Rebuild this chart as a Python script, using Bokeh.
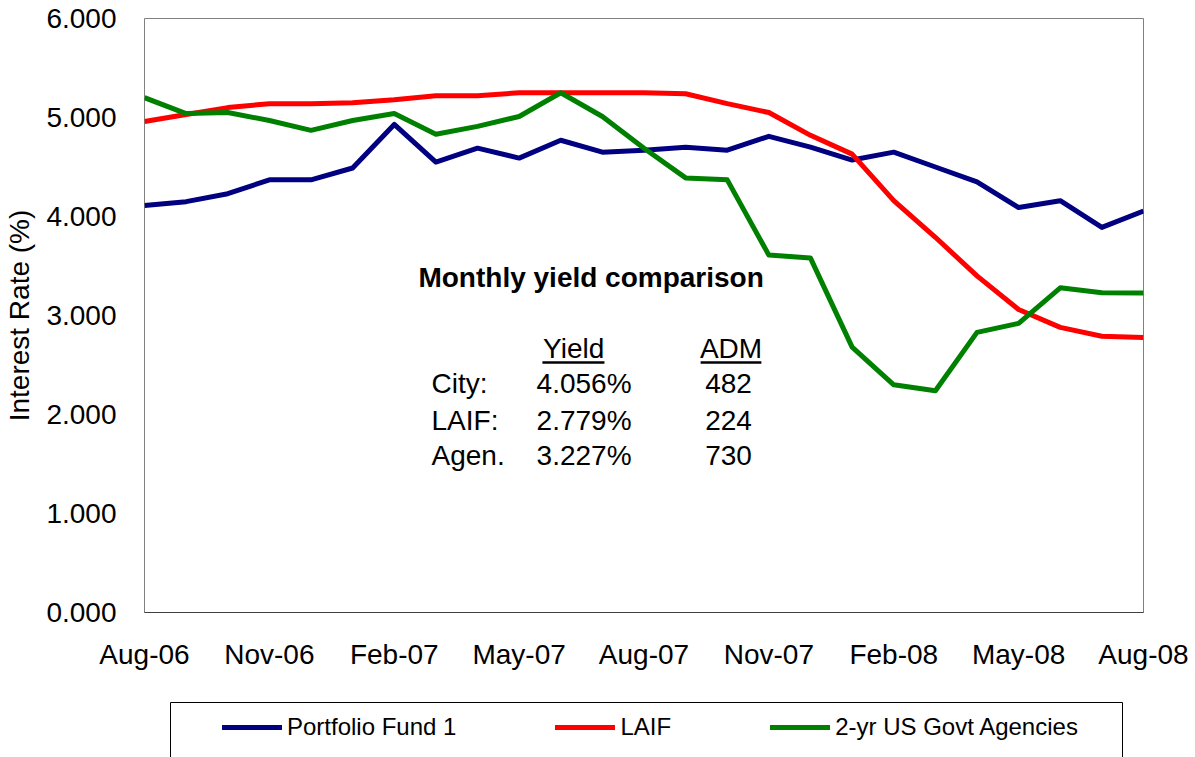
from bokeh.plotting import figure
from bokeh.models import (ColumnDataSource, FixedTicker, NumeralTickFormatter, Legend,
                          LegendItem, Range1d, Spacer, Label)
from bokeh.layouts import column, row
from bokeh.core.properties import value
from bokeh.embed import file_html
from bokeh.resources import INLINE

# ---------------- data ----------------
months = ["Aug-06", "Sep-06", "Oct-06", "Nov-06", "Dec-06", "Jan-07", "Feb-07", "Mar-07",
          "Apr-07", "May-07", "Jun-07", "Jul-07", "Aug-07", "Sep-07", "Oct-07", "Nov-07",
          "Dec-07", "Jan-08", "Feb-08", "Mar-08", "Apr-08", "May-08", "Jun-08", "Jul-08",
          "Aug-08"]
portfolio = [4.11, 4.15, 4.23, 4.37, 4.37, 4.49, 4.93, 4.55, 4.69, 4.59, 4.77, 4.65, 4.67,
             4.70, 4.67, 4.81, 4.70, 4.57, 4.65, 4.50, 4.35, 4.09, 4.16, 3.89, 4.056]
laif = [4.96, 5.03, 5.10, 5.14, 5.14, 5.15, 5.18, 5.22, 5.22, 5.25, 5.25, 5.25, 5.25,
        5.24, 5.14, 5.05, 4.82, 4.63, 4.16, 3.79, 3.40, 3.06, 2.88, 2.79, 2.779]
agencies = [5.20, 5.04, 5.05, 4.97, 4.87, 4.97, 5.04, 4.83, 4.91, 5.01, 5.25, 5.01, 4.69,
            4.39, 4.37, 3.61, 3.58, 2.68, 2.30, 2.24, 2.83, 2.92, 3.28, 3.23, 3.227]
series_names = ["Portfolio Fund 1", "LAIF", "2-yr US Govt Agencies"]
series_colors = ["#000080", "#FF0000", "#008000"]

y_ticks = [0, 1, 2, 3, 4, 5, 6]
x_tick_idx = list(range(0, 25, 3))

table_title = "Monthly yield comparison"
table_headers = ["Yield", "ADM"]
row_labels = ["City:", "LAIF:", "Agen."]
row_yields = ["4.056%", "2.779%", "3.227%"]
row_adm = ["482", "224", "730"]

FONT = "Liberation Sans"
x = list(range(len(months)))

# ---------------- main figure ----------------
p = figure(width=1195, height=702, x_range=Range1d(0, 24), y_range=Range1d(0, 6),
           output_backend="svg", toolbar_location=None,
           min_border_left=144, min_border_right=52, min_border_top=18, min_border_bottom=90)
p.xgrid.visible = False
p.ygrid.visible = False
p.outline_line_color = "#808080"
p.outline_line_width = 1
p.background_fill_color = "white"
p.border_fill_color = "white"

xa = p.xaxis[0]
xa.ticker = FixedTicker(ticks=x_tick_idx)
xa.major_label_overrides = {i: months[i] for i in x_tick_idx}
xa.major_tick_line_color = None
xa.minor_tick_line_color = None
xa.axis_line_color = "#404040"
xa.major_label_text_font = FONT
xa.major_label_text_font_size = "28px"
xa.major_label_text_color = "black"
xa.major_label_standoff = 20

ya = p.yaxis[0]
ya.ticker = FixedTicker(ticks=y_ticks)
ya.formatter = NumeralTickFormatter(format="0.000")
ya.major_tick_line_color = None
ya.minor_tick_line_color = None
ya.axis_line_color = None
ya.major_label_text_font = FONT
ya.major_label_text_font_size = "28px"
ya.major_label_text_color = "black"
ya.major_label_standoff = 22
ya.axis_label = "Interest Rate (%)"
ya.axis_label_text_font = FONT
ya.axis_label_text_font_size = "28px"
ya.axis_label_text_font_style = "normal"
ya.axis_label_text_color = "black"
ya.axis_label_standoff = 8

for vals, col in zip([portfolio, laif, agencies], series_colors):
    p.line(x=x, y=vals, line_color=col, line_width=5, line_join="round")

# text block inside the plot
p.add_layout(Label(x=10.73, y=3.384, text=table_title, text_font=FONT,
                   text_font_style="bold", text_font_size="28px", text_align="center",
                   text_baseline="middle", text_color="black"))

hdr = ColumnDataSource(dict(x=[10.31, 14.09], y=[2.667, 2.667], t=table_headers))
p.text(x="x", y="y", text="t", source=hdr, text_font=value(FONT), text_font_size="28px",
       text_align="center", text_baseline="middle", text_color="black")
p.segment(x0=[9.56, 13.36], y0=[2.525, 2.525], x1=[11.05, 14.82], y1=[2.525, 2.525],
          line_color="black", line_width=2.5)

row_y = [2.313, 1.94, 1.586]
p.text(x=[6.895] * 3, y=row_y, text=row_labels, text_font=value(FONT), text_font_size="28px",
       text_align="left", text_baseline="middle", text_color="black")
p.text(x=[9.42] * 3, y=row_y, text=row_yields, text_font=value(FONT), text_font_size="28px",
       text_align="left", text_baseline="middle", text_color="black")
p.text(x=[14.03] * 3, y=row_y, text=row_adm, text_font=value(FONT), text_font_size="28px",
       text_align="center", text_baseline="middle", text_color="black")

# ---------------- legend box ----------------
p2 = figure(width=953, height=57, x_range=Range1d(0, 1), y_range=Range1d(0, 1),
            output_backend="svg", toolbar_location=None, min_border=0,
            x_axis_location=None, y_axis_location=None)
p2.xgrid.visible = False
p2.ygrid.visible = False
p2.outline_line_color = "black"
p2.outline_line_width = 1

items = []
for name, col, vals in zip(series_names, series_colors, [portfolio, laif, agencies]):
    # legend-only renderer: same series, outside this small panel's visible range
    r = p2.line(x=x, y=vals, line_color=col, line_width=5, line_cap="round")
    items.append(LegendItem(label=name, renderers=[r]))

leg = Legend(items=items, orientation="horizontal", location=(52, 18), spacing=99,
             padding=0, margin=0, glyph_width=60, glyph_height=20, label_standoff=5,
             label_text_font=FONT, label_text_font_size="24px", label_text_color="black",
             border_line_color=None, background_fill_alpha=0)
p2.add_layout(leg, "center")

layout = column(p, row(Spacer(width=170, height=57), p2))

open("out.html", "w").write(file_html(layout, INLINE))
